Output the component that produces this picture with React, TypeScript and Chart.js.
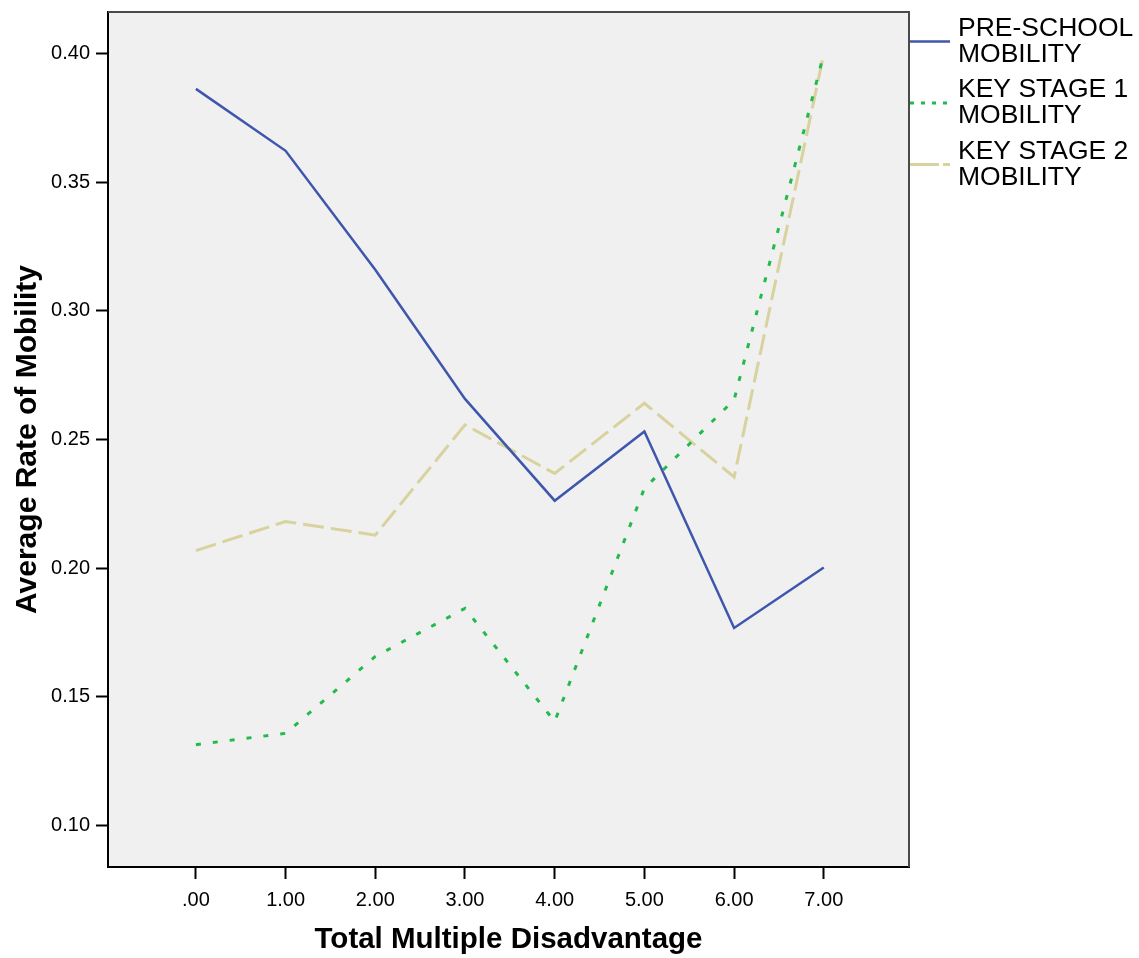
import React, { useEffect, useRef } from "react";
import { Chart, registerables } from "chart.js";

Chart.register(...registerables);

const disadvantage = [0, 1, 2, 3, 4, 5, 6, 7];
const preSchool = [0.3864, 0.3623, 0.316, 0.2658, 0.2262, 0.2531, 0.1767, 0.2002];
const keyStage1 = [0.1313, 0.1357, 0.1656, 0.1843, 0.1403, 0.231, 0.2654, 0.4];
const keyStage2 = [0.2068, 0.2181, 0.2128, 0.2557, 0.2368, 0.2641, 0.2354, 0.4];
const yTicks = [0.1, 0.15, 0.2, 0.25, 0.3, 0.35, 0.4];
const seriesNames = [["PRE-SCHOOL", "MOBILITY"], ["KEY STAGE 1", "MOBILITY"], ["KEY STAGE 2", "MOBILITY"]];

const FONT = "'Liberation Sans', Arial, sans-serif";

const bgPlugin = {
  id: "bgFrame",
  beforeDraw(chart: any) {
    const { ctx, chartArea: a } = chart;
    ctx.save();
    ctx.fillStyle = "#f0f0f0";
    ctx.fillRect(a.left, a.top, a.right - a.left, a.bottom - a.top);
    ctx.restore();
  },
  afterDraw(chart: any) {
    const { ctx, chartArea: a } = chart;
    ctx.save();
    ctx.strokeStyle = "#4a4a4a";
    ctx.lineWidth = 2;
    ctx.beginPath();
    ctx.moveTo(a.left, a.top);
    ctx.lineTo(a.right, a.top);
    ctx.lineTo(a.right, a.bottom);
    ctx.stroke();
    // legend
    const dashes = [[], [4, 7], [29, 4]];
    chart.data.datasets.forEach((ds: any, i: number) => {
      const cy = 41.5 + i * 61.5;
      ctx.strokeStyle = ds.borderColor;
      ctx.lineWidth = ds.borderWidth;
      ctx.setLineDash(dashes[i]);
      ctx.beginPath();
      ctx.moveTo(a.right + 1, cy);
      ctx.lineTo(a.right + 41, cy);
      ctx.stroke();
      ctx.setLineDash([]);
      ctx.fillStyle = "#000";
      ctx.font = `26.5px ${FONT}`;
      ctx.textBaseline = "middle";
      ctx.textAlign = "left";
      ctx.fillText(seriesNames[i][0], a.right + 49, cy - 13);
      ctx.fillText(seriesNames[i][1], a.right + 49, cy + 13);
    });
    ctx.restore();
  },
};

export default function App() {
  const ref = useRef<HTMLCanvasElement>(null);
  useEffect(() => {
    if (!ref.current) return;
    const mk = (ys: number[]) => disadvantage.map((x, i) => ({ x, y: ys[i] }));
    const chart = new Chart(ref.current, {
      type: "line",
      data: {
        datasets: [
          { label: seriesNames[0].join(" "), data: mk(preSchool), borderColor: "#3f56ad", borderWidth: 2.5, pointRadius: 0, tension: 0 },
          { label: seriesNames[1].join(" "), data: mk(keyStage1), borderColor: "#22ba4a", borderWidth: 3, borderDash: [5, 12], pointRadius: 0, tension: 0 },
          { label: seriesNames[2].join(" "), data: mk(keyStage2), borderColor: "#d8d29e", borderWidth: 3, borderDash: [21, 7], pointRadius: 0, tension: 0 },
        ],
      },
      options: {
        responsive: false,
        animation: false,
        layout: { padding: { left: 0, right: 230, top: 12, bottom: 0 } },
        plugins: { legend: { display: false }, tooltip: { enabled: false } },
        scales: {
          x: {
            type: "linear",
            min: -0.98,
            max: 7.95,
            afterBuildTicks: (s: any) => { s.ticks = disadvantage.map((v) => ({ value: v })); },
            afterFit: (s: any) => { s.height = 91; s.paddingLeft = 0; s.paddingRight = 0; },
            grid: { drawOnChartArea: false, drawTicks: true, tickLength: 12, tickColor: "#000", tickWidth: 2 },
            border: { display: true, color: "#000", width: 2 },
            ticks: {
              padding: 9,
              color: "#000",
              font: { family: FONT, size: 20 },
              maxRotation: 0,
              callback: (v: any) => (v === 0 ? ".00" : Number(v).toFixed(2)),
            },
            title: { display: true, text: "Total Multiple Disadvantage", color: "#000", font: { family: FONT, size: 29.5, weight: "bold" }, padding: { top: 0, bottom: 0 } },
          },
          y: {
            type: "linear",
            min: 0.0837,
            max: 0.4163,
            afterBuildTicks: (s: any) => { s.ticks = yTicks.map((v) => ({ value: v })); },
            afterFit: (s: any) => { s.width = 108; s.paddingTop = 0; s.paddingBottom = 0; },
            grid: { drawOnChartArea: false, drawTicks: true, tickLength: 12, tickColor: "#000", tickWidth: 2 },
            border: { display: true, color: "#000", width: 2 },
            ticks: {
              padding: 6,
              color: "#000",
              font: { family: FONT, size: 20 },
              callback: (v: any) => Number(v).toFixed(2),
            },
            title: { display: true, text: "Average Rate of Mobility", color: "#000", font: { family: FONT, size: 30, weight: "bold" }, padding: { top: 10, bottom: 0 } },
          },
        },
      },
      plugins: [bgPlugin],
    } as any);
    return () => chart.destroy();
  }, []);
  return (
    <div style={{ position: "fixed", left: 0, top: 0, width: 1139, height: 958, background: "#fff" }}>
      <canvas ref={ref} width={1139} height={958} style={{ display: "block" }} />
    </div>
  );
}
